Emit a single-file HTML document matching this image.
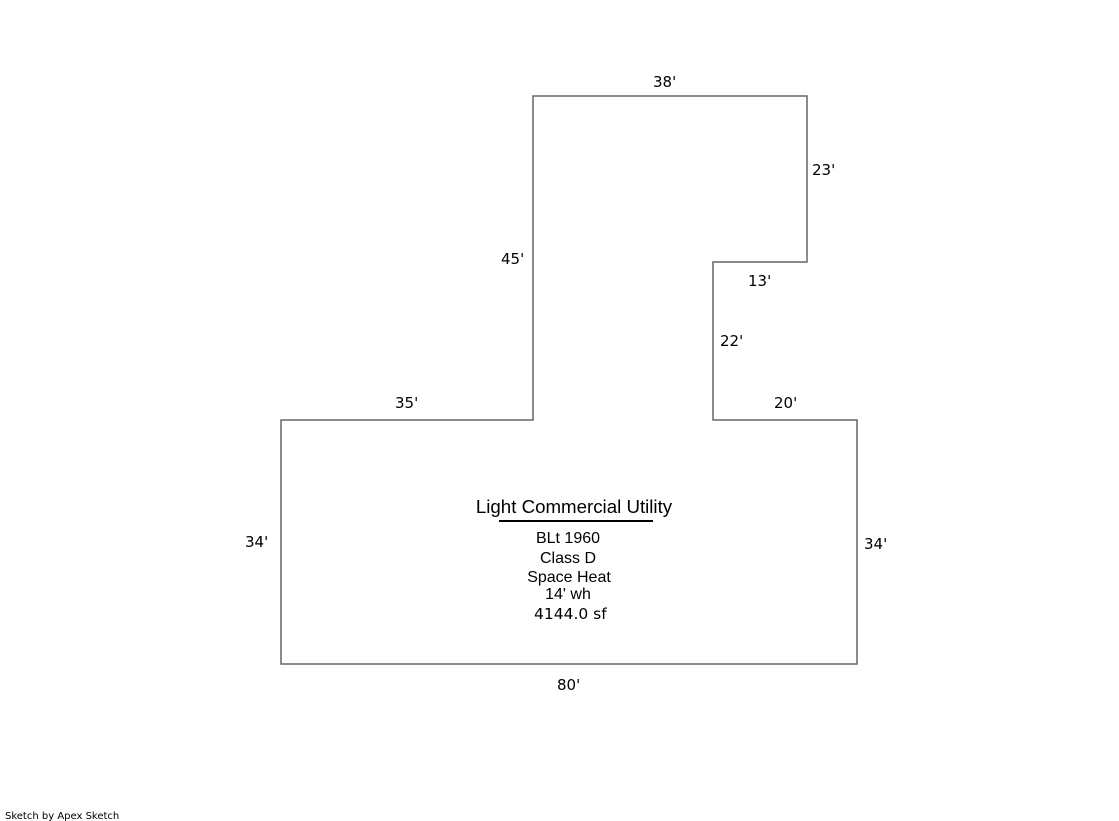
<!DOCTYPE html>
<html><head><style>
body{margin:0;width:1119px;height:821px;background:#fff;overflow:hidden}
svg{position:absolute;left:0;top:0}
.d{font-family:"DejaVu Sans",sans-serif;font-size:15px;fill:#000}
.c{font-family:"Liberation Sans",sans-serif;font-size:16px;fill:#000;text-anchor:middle}
</style></head><body>
<svg width="1119" height="821">
<polygon points="533,96 807,96 807,262 713,262 713,420 857,420 857,664 281,664 281,420 533,420" fill="none" stroke="#666" stroke-width="1.5"/>
<text class="d" x="653" y="87">38'</text>
<text class="d" x="812" y="175">23'</text>
<text class="d" x="748" y="286">13'</text>
<text class="d" x="720" y="346">22'</text>
<text class="d" x="501" y="264">45'</text>
<text class="d" x="395" y="408">35'</text>
<text class="d" x="774" y="408">20'</text>
<text class="d" x="245" y="547">34'</text>
<text class="d" x="864" y="549">34'</text>
<text class="d" x="557" y="690">80'</text>
<text class="c" x="574" y="513" style="font-size:18.7px">Light Commercial Utility</text>
<line x1="499" y1="521" x2="653" y2="521" stroke="#000" stroke-width="2"/>
<text class="c" x="568" y="543">BLt 1960</text>
<text class="c" x="568" y="563">Class D</text>
<text class="c" x="569" y="582">Space Heat</text>
<text class="c" x="568" y="599">14' wh</text>
<text class="d" x="534" y="619" style="font-size:15.5px">4144.0 sf</text>
<text x="5" y="819" style="font-family:'DejaVu Sans',sans-serif;font-size:10px;fill:#000">Sketch by Apex Sketch</text>
</svg>
</body></html>
